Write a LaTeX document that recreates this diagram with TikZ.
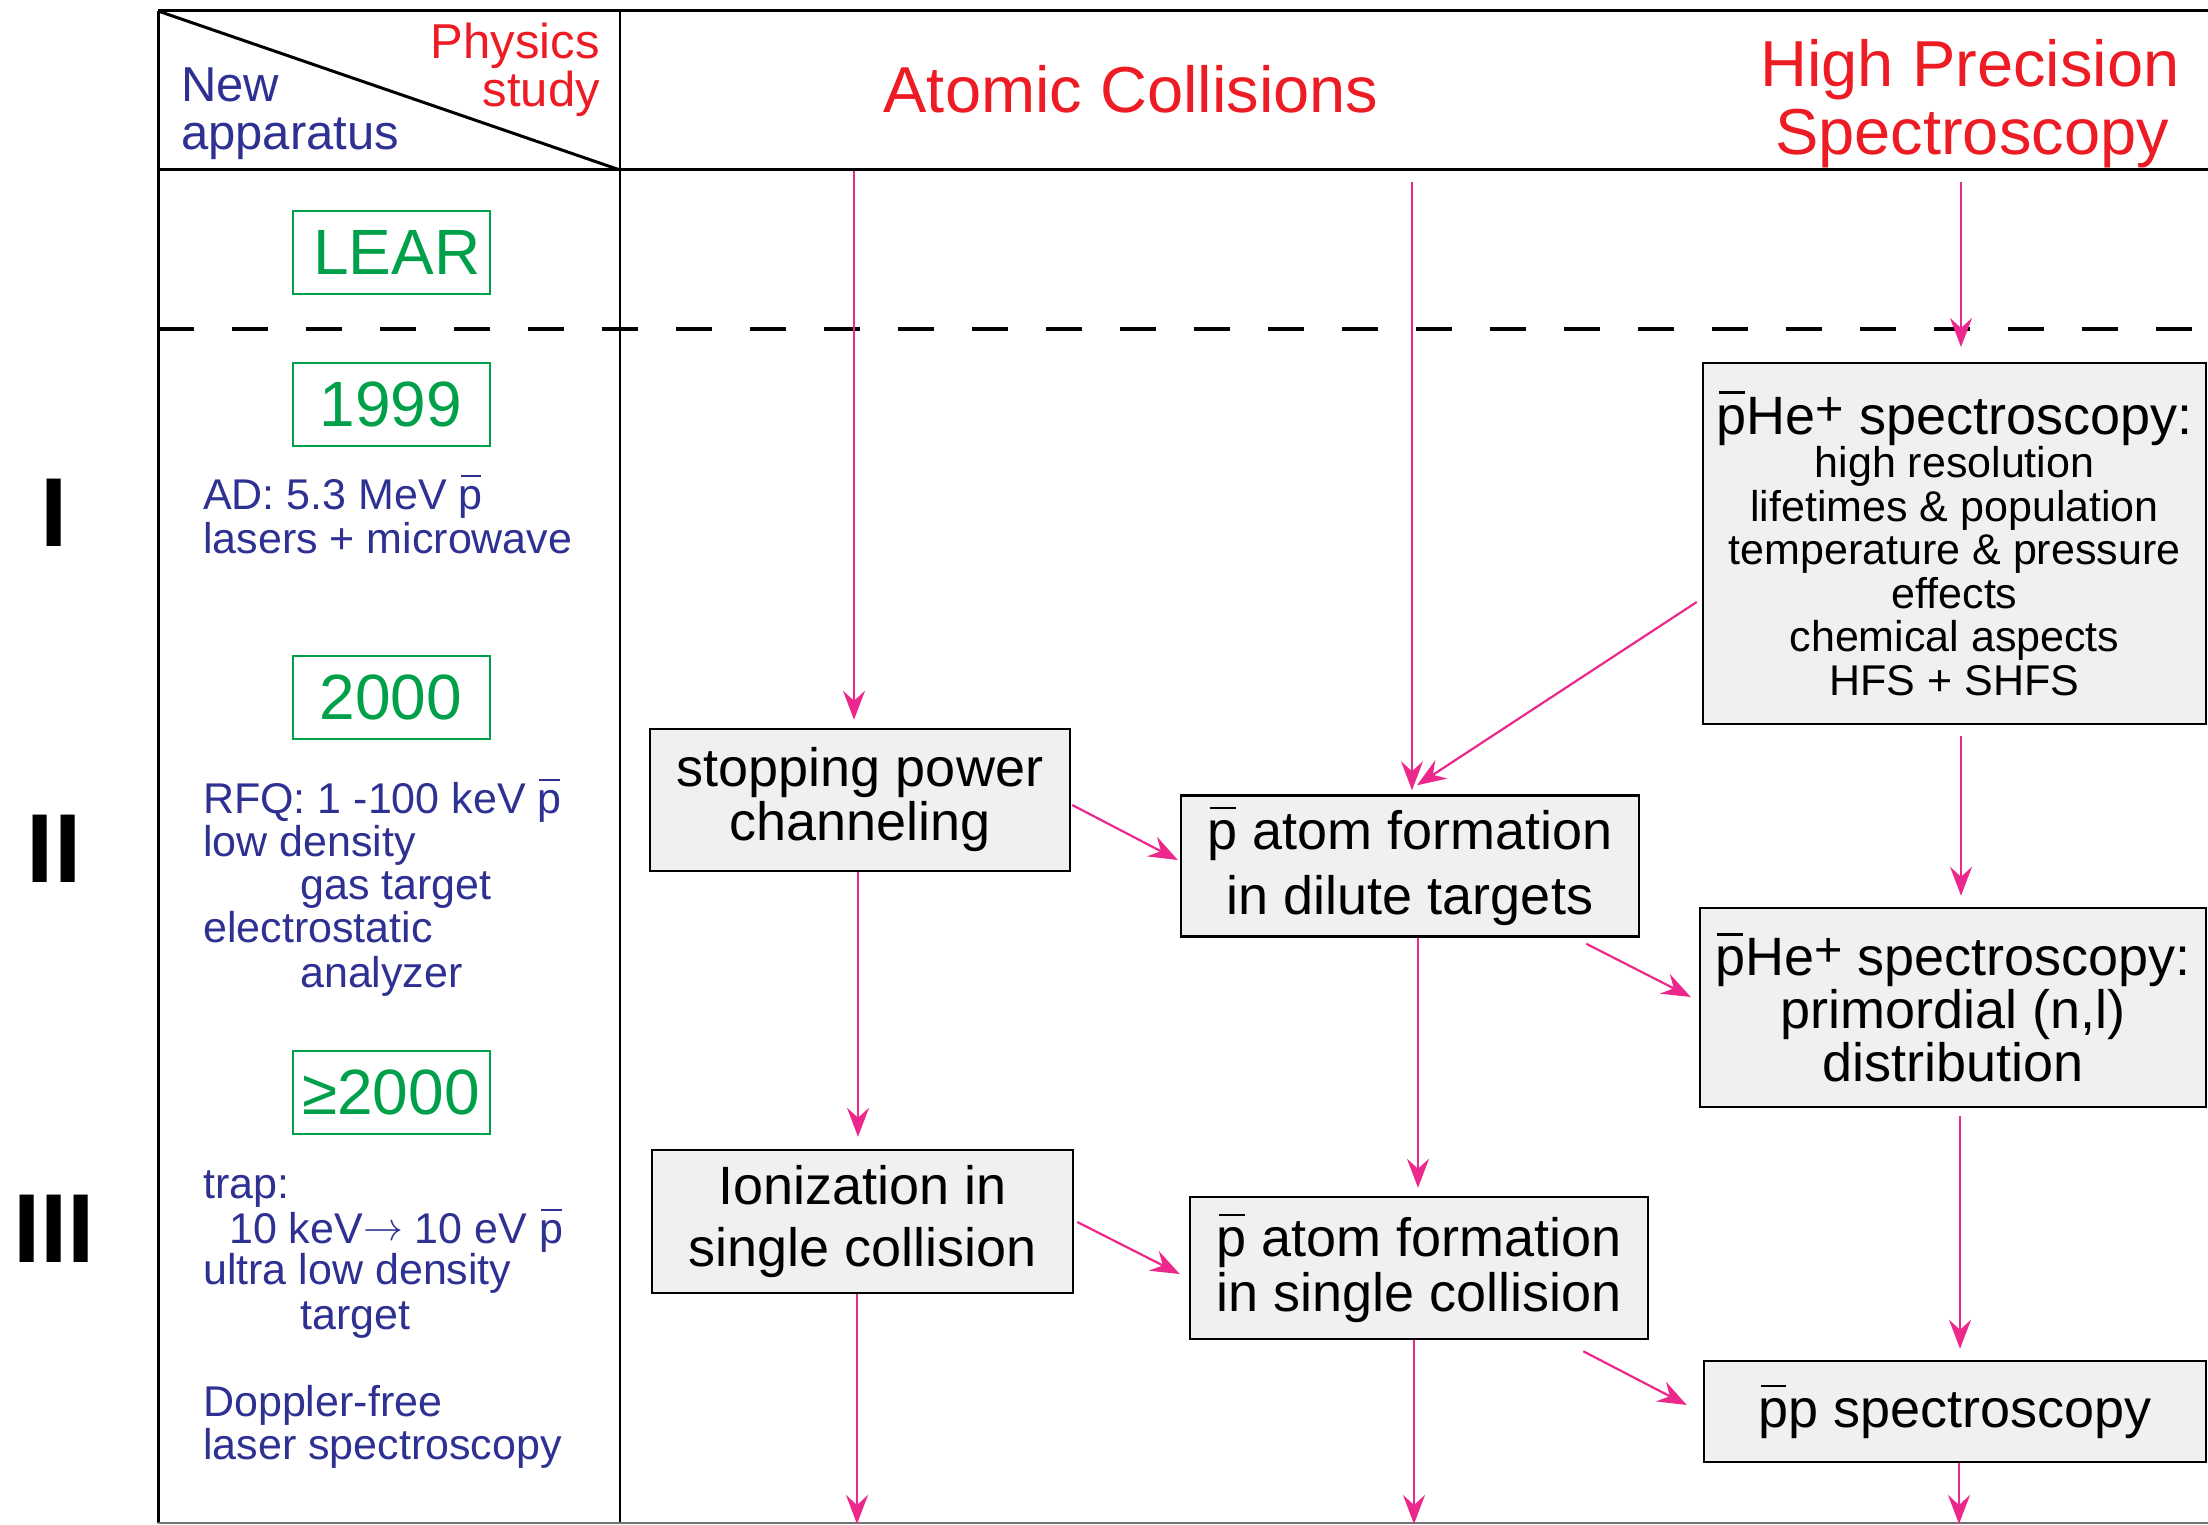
\documentclass[tikz,border=0pt]{standalone}
\usepackage{fontspec}
\setmainfont{Liberation Sans}
\usetikzlibrary{arrows.meta,calc}
\definecolor{nblue}{RGB}{46,49,146}
\definecolor{nred}{RGB}{237,28,36}
\definecolor{ngreen}{RGB}{0,160,74}
\definecolor{nmag}{RGB}{236,40,140}
\newcommand\pbar{\leavevmode\rlap{\hspace{0.04em}\raisebox{0.74em}{\rule{0.48em}{0.05em}}}p}
\newcommand\plusup{\raisebox{0.16em}{\scalebox{0.9}{+}}}
\newcommand\fs[2]{\fontsize{#1}{#2}\selectfont}
\newcommand\longarr{\raisebox{0.06em}{\scalebox{1.6}{$\rightarrow$}}}
\tikzset{
  frame/.style={line width=3pt,black},
  dashline/.style={line width=3.5pt,black,dash pattern=on 36pt off 38pt},
  yearbox/.style={draw=ngreen,line width=2pt,text=ngreen,minimum width=197pt,minimum height=83pt,inner sep=0pt,font=\fs{64}{64}},
  physbox/.style={draw=black,line width=2.5pt,fill=black!6,inner sep=0pt,align=center},
  bluetxt/.style={text=nblue,anchor=base west,inner sep=0pt,font=\fs{43}{43}},
  arr/.style={draw=nmag,line width=2.2pt,-{Stealth[length=29pt,width=22pt,inset=10pt]}},
  roman/.style={font=\bfseries\fs{98}{98},inner sep=0pt}
}
\begin{document}
\begin{tikzpicture}[x=1pt,y=-1pt]
\fill[white] (0,0) rectangle (2208,1525);
\useasboundingbox (0,0) rectangle (2208,1525);

% frame
\draw[frame] (158,11) -- (2208,11);
\draw[frame] (158,170) -- (2208,170);
\draw[frame] (158,11) -- (158,1523);
\draw[line width=2.5pt] (620,11) -- (620,1523);
\draw[frame] (158,11) -- (620,170);
\draw[dashline] (158,329) -- (2208,329);
\draw[black!55,line width=2.5pt] (158,1523) -- (2208,1523);

% header texts
\node[text=nblue,anchor=base west,inner sep=0pt,font=\fs{49}{49}] (hnew) at (181,102) {New};
\node[text=nblue,anchor=base west,inner sep=0pt,font=\fs{49}{49}] (happ) at (181,150) {apparatus};
\node[text=nred,anchor=base east,inner sep=0pt,font=\fs{49}{49}] (hphys) at (600,59) {Physics};
\node[text=nred,anchor=base east,inner sep=0pt,font=\fs{49}{49}] (hstudy) at (600,107) {study};
\node[text=nred,anchor=base,inner sep=0pt,font=\fs{65}{65}] (hatomic) at (1131,113) {Atomic Collisions};
\node[text=nred,anchor=base,inner sep=0pt,font=\fs{65}{65}] (hhigh) at (1970,87) {High Precision};
\node[text=nred,anchor=base,inner sep=0pt,font=\fs{65}{65}] (hspec) at (1972,155) {Spectroscopy};

% roman numerals
\node[roman] (r1) at (54,513) {I};
\node[roman] (r2) at (54,849) {II};
\node[roman] (r3) at (54,1229) {III};

% year boxes
\node[yearbox] (lear) at (391,252.5) {\hspace*{12pt}LEAR};
\node[yearbox] (y1999) at (391,404.5) {1999};
\node[yearbox] (y2000) at (391,697) {2000};
\node[yearbox] (y2000p) at (391,1092.5) {≥2000};

% apparatus texts
\node[bluetxt] (ad1) at (203,509) {AD: 5.3 MeV \pbar};
\node[bluetxt] (ad2) at (203,553) {lasers + microwave};
\node[bluetxt] (rf1) at (203,813) {RFQ: 1 -100 keV \pbar};
\node[bluetxt] (rf2) at (203,856) {low density};
\node[bluetxt] (rf3) at (300,899) {gas target};
\node[bluetxt] (rf4) at (203,942) {electrostatic};
\node[bluetxt] (rf5) at (300,987) {analyzer};
\node[bluetxt] (tr1) at (203,1198) {trap:};
\node[bluetxt] (tr2) at (229,1243) {10 keV\longarr{} 10 eV \pbar};
\node[bluetxt] (tr3) at (203,1284) {ultra low density};
\node[bluetxt] (tr4) at (300,1329) {target};
\node[bluetxt] (dp1) at (203,1416) {Doppler-free};
\node[bluetxt] (dp2) at (203,1459) {laser spectroscopy};

% physics boxes
\node[physbox,minimum width=420pt,minimum height=142pt,font=\fs{54}{54}] (stop) at (860,800) {stopping power\\channeling};
\node[physbox,minimum width=458pt,minimum height=141pt,font=\fs{54}{65}] (dil) at (1410,866) {\pbar{} atom formation\\in dilute targets};
\node[physbox,minimum width=503pt,minimum height=361pt,font=\fs{43}{43.5}] (big) at (1954.5,543.5)
  {{\fs{54}{54}\pbar He\plusup{} spectroscopy:}\\high resolution\\lifetimes \& population\\temperature \& pressure\\effects\\chemical aspects\\HFS + SHFS};
\node[physbox,minimum width=506pt,minimum height=199pt,font=\fs{54}{53}] (prim) at (1953,1007.5) {\pbar He\plusup{} spectroscopy:\\primordial (n,l)\\distribution};
\node[physbox,minimum width=421pt,minimum height=143pt,font=\fs{54}{62}] (ion) at (862.5,1221.5) {Ionization in\\single collision};
\node[physbox,minimum width=458pt,minimum height=142pt,font=\fs{54}{55}] (single) at (1419,1268) {\pbar{} atom formation\\in single collision};
\node[physbox,minimum width=502pt,minimum height=101pt,font=\fs{54}{54}] (pp) at (1955,1411.5) {\pbar p spectroscopy};

% free-end coordinates
\coordinate (t1) at (854,171);
\coordinate (t2) at (1412,182);
\coordinate (t3) at (1961,182);
\coordinate (e3) at (1961,347);
\coordinate (b1) at (857,1524);
\coordinate (b2) at (1414,1524);
\coordinate (b3) at (1959,1524);

% arrows
\draw[arr] (t1) -- ($(stop.north)+(-6,-8)$);
\draw[arr] (t2) -- ($(dil.north)+(2,-4)$);
\draw[arr] (t3) -- (e3);
\draw[arr] ($(big.west)+(-5,58.5)$) -- ($(dil.north)+(7,-9)$);
\draw[arr] ($(stop.east)+(1,5)$) -- ($(dil.west)+(-2,-6)$);
\draw[arr] ($(big.south)+(6.5,11)$) -- ($(prim.north)+(8,-11)$);
\draw[arr] ($(stop.south)+(-2,0)$) -- ($(ion.north)+(-4.5,-12)$);
\draw[arr] ($(dil.south)+(8,0)$) -- ($(single.north)+(-1,-8)$);
\draw[arr] ($(dil.south east)+(-54,6)$) -- ($(prim.west)+(-8,-10.5)$);
\draw[arr] ($(ion.east)+(3,0.5)$) -- ($(single.west)+(-9,6)$);
\draw[arr] ($(prim.south)+(7,8)$) -- ($(pp.north)+(5,-11)$);
\draw[arr] ($(single.south east)+(-66,11)$) -- ($(pp.west)+(-16,-6.5)$);
\draw[arr] ($(ion.south)+(-5.5,0)$) -- (b1);
\draw[arr] ($(single.south)+(-5,0)$) -- (b2);
\draw[arr] ($(pp.south)+(4,0)$) -- (b3);
\end{tikzpicture}
\end{document}
